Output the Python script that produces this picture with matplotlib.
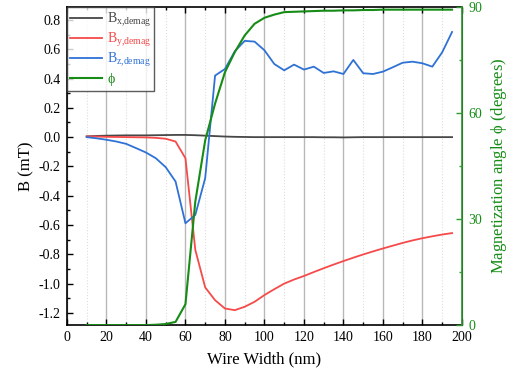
from matplotlib import pyplot as plt
from matplotlib.ticker import MultipleLocator

plt.rcParams['font.family'] = ['Liberation Serif', 'DejaVu Serif']
plt.rcParams['mathtext.fontset'] = 'custom'
plt.rcParams['mathtext.rm'] = 'Liberation Serif'
plt.rcParams['mathtext.it'] = 'Liberation Serif'

# Data
width = [10, 15, 20, 25, 30, 35, 40, 45, 50, 55, 60, 65, 70, 75, 80, 85, 90, 95,
         100, 105, 110, 115, 120, 125, 130, 135, 140, 145, 150, 155, 160, 165,
         170, 175, 180, 185, 190, 195]

bx = [0.005, 0.008, 0.010, 0.011, 0.012, 0.012, 0.012, 0.013, 0.014, 0.015,
      0.015, 0.013, 0.010, 0.007, 0.004, 0.002, 0.001, 0.0,
      0.0, 0.0, 0.0, 0.0, 0.0, 0.0, -0.001, -0.001, -0.002, -0.001, 0.0, 0.0,
      0.0, 0.0, 0.0, 0.0, 0.0, 0.0, 0.0, 0.0]

by = [0.005, 0.004, 0.002, 0.001, 0.0, -0.001, -0.002, -0.005, -0.011, -0.030,
      -0.144, -0.77, -1.026, -1.113, -1.17, -1.181, -1.158, -1.124,
      -1.078, -1.038, -1.0, -0.972, -0.948, -0.921, -0.895, -0.870, -0.846,
      -0.823, -0.801, -0.780, -0.760, -0.741, -0.722, -0.705, -0.690, -0.677,
      -0.665, -0.655]

bz = [0.0, -0.008, -0.018, -0.030, -0.046, -0.075, -0.105, -0.144, -0.205,
      -0.303, -0.588, -0.531, -0.28, 0.42, 0.465, 0.586, 0.657, 0.652,
      0.593, 0.499, 0.456, 0.495, 0.461, 0.481, 0.438, 0.449, 0.431, 0.527,
      0.436, 0.431, 0.447, 0.477, 0.508, 0.515, 0.504, 0.481, 0.579, 0.718]

phi = [0.0, 0.0, 0.0, 0.0, 0.0, 0.0, 0.0, 0.1, 0.3, 0.9, 5.9, 35.0, 52.3,
       62.7, 71.6, 77.3, 82.0, 85.3, 87.0, 87.9, 88.6, 88.7, 88.8, 88.9,
       89.0, 89.0, 89.1, 89.1, 89.2, 89.2, 89.3, 89.3, 89.3, 89.3, 89.3,
       89.3, 89.3, 89.3]

C_BX = '#474747'
C_BY = '#f64a4a'
C_BZ = '#2f72d6'
C_PHI = '#168c16'
C_AX2 = '#2f9a2f'

fig = plt.figure(figsize=(5.11, 3.78), dpi=100)
ax = fig.add_axes([0.131, 0.140, 0.773, 0.841])
ax2 = ax.twinx()

l1, = ax.plot(width, bx, color=C_BX, lw=1.3, label=r'B$_{\mathrm{x{,}demag}}$')
l2, = ax.plot(width, by, color=C_BY, lw=1.3, label=r'B$_{\mathrm{y{,}demag}}$')
l3, = ax.plot(width, bz, color=C_BZ, lw=1.3, label=r'B$_{\mathrm{z{,}demag}}$')
l4, = ax2.plot(width, phi, color=C_PHI, lw=1.5, label=r'$\phi$')

ax.set_xlim(0, 200)
ax.set_ylim(-1.283, 0.887)
ax2.set_ylim(0, 90)

ax.xaxis.set_major_locator(MultipleLocator(20))
ax.xaxis.set_minor_locator(MultipleLocator(10))
ax.yaxis.set_major_locator(MultipleLocator(0.2))
ax.yaxis.set_minor_locator(MultipleLocator(0.1))
ax.yaxis.set_major_formatter(plt.FormatStrFormatter('%.1f'))
ax2.yaxis.set_major_locator(MultipleLocator(30))
ax2.yaxis.set_minor_locator(MultipleLocator(15))

ax.grid(True, which='major', axis='x', color='#b8b8b8', lw=1.0)
ax.grid(True, which='minor', axis='x', color='#dddddd', lw=0.8, ls=':')
ax.set_axisbelow(True)

ax.tick_params(which='both', direction='in', top=True, labelsize=10,
               width=1.0, colors='black', pad=4.5)
ax.tick_params(which='major', length=4)
ax.tick_params(which='minor', length=2.5)
ax.tick_params(axis='y', right=False)
ax2.tick_params(which='both', direction='in', labelsize=10, colors=C_AX2,
                width=1.0, pad=4.5)
ax2.tick_params(which='major', length=4)
ax2.tick_params(which='minor', length=2.5)
for lab in ax2.get_yticklabels():
    lab.set_color(C_PHI)

for s in ['left', 'bottom', 'top']:
    ax.spines[s].set_linewidth(1.2)
ax2.spines['right'].set_color(C_AX2)
ax2.spines['right'].set_linewidth(1.2)
ax2.spines['left'].set_visible(False)
ax2.spines['top'].set_visible(False)
ax2.spines['bottom'].set_visible(False)

ax.set_xlabel('Wire Width (nm)', fontsize=12, labelpad=5)
ax.set_ylabel('B (mT)', fontsize=12, labelpad=3)
ax2.set_ylabel(r'Magnetization angle $\phi$ (degrees)', fontsize=12,
               color=C_PHI, labelpad=5)

leg = ax2.legend([l1, l2, l3, l4], [l.get_label() for l in [l1, l2, l3, l4]],
                 loc='upper left', fontsize=10, frameon=True, fancybox=False,
                 borderaxespad=0, handlelength=2.3, handletextpad=0.3,
                 borderpad=0.25, labelspacing=0.15)
leg.get_frame().set_edgecolor('#333333')
leg.get_frame().set_linewidth(1.0)
for t, c in zip(leg.get_texts(), [C_BX, C_BY, C_BZ, C_PHI]):
    t.set_color(c)

fig.savefig('out.png', dpi=100)
